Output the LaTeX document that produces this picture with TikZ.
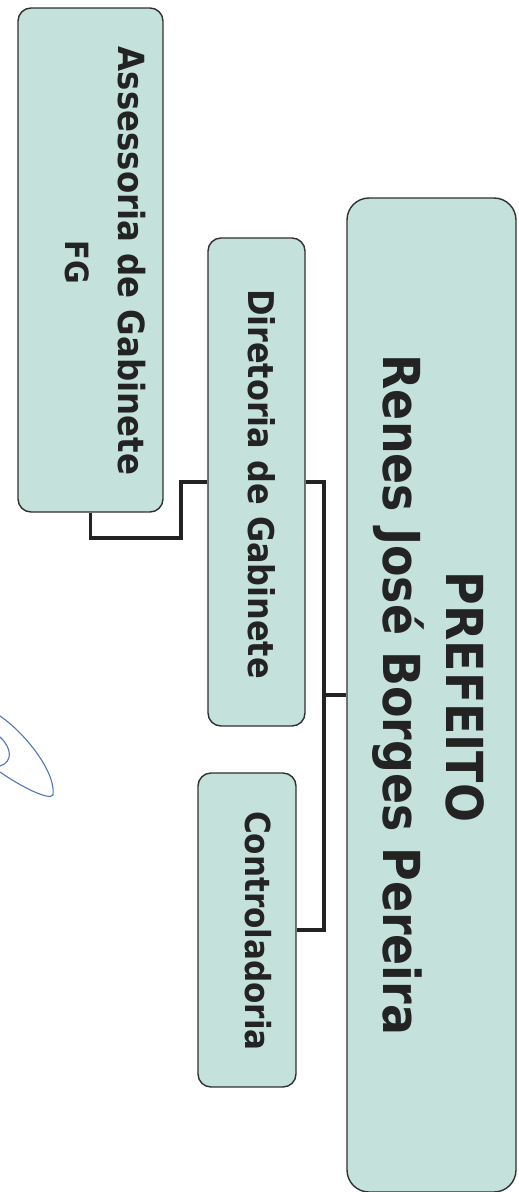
\documentclass[tikz,border=0pt]{standalone}
\usepackage{fontspec}
\setmainfont{DejaVu Sans Condensed}
\usetikzlibrary{calc}
\definecolor{boxfill}{HTML}{C4E2DB}
\definecolor{boxline}{HTML}{303030}
\definecolor{ink}{HTML}{232323}
\definecolor{sigblue}{HTML}{5177B8}
\tikzset{
  box/.style={draw=boxline, line width=1.4pt, fill=boxfill, rounded corners=13pt, rectangle, inner sep=0pt},
  bigbox/.style={box, rounded corners=22pt},
  lbl/.style={rotate=-90, anchor=base, inner sep=0pt, text=ink, font=\bfseries},
  conn/.style={draw=ink, line width=3.8pt},
  sig/.style={draw=sigblue, line width=1.1pt, line cap=round}
}
\begin{document}
\begin{tikzpicture}[x=1pt,y=-1pt]
\useasboundingbox (0,0) rectangle (519,1192);
% boxes (rotated: minimum width runs along the page height)
\node[box, rotate=-90, minimum width=504pt, minimum height=145pt] (A) at (90.5,260) {};
\node[box, rotate=-90, minimum width=488pt, minimum height=97pt] (D) at (256.5,482) {};
\node[box, rotate=-90, minimum width=314pt, minimum height=98pt] (C) at (247,930) {};
\node[bigbox, rotate=-90, minimum width=994pt, minimum height=169pt] (P) at (431.5,695) {};
% texts
\node[lbl, font=\bfseries\fontsize{36}{40}\selectfont] (A1) at (118,261) {Assessoria de Gabinete};
\node[lbl, font=\bfseries\fontsize{32}{36}\selectfont] (A2) at (65,262) {FG};
\node[lbl, font=\bfseries\fontsize{35.5}{42}\selectfont] (D1) at (248,484) {Diretoria de Gabinete};
\node[lbl, font=\bfseries\fontsize{34.5}{40}\selectfont] (C1) at (245,931) {Controladoria};
\node[lbl, font=\bfseries\fontsize{51}{56}\selectfont] (P1) at (446,697) {PREFEITO};
\node[lbl, font=\bfseries\fontsize{51}{58}\selectfont] (P2) at (383,695) {Renes José Borges Pereira};
% connectors
\coordinate (t1) at ($(D.north)+(18,0)$);
\coordinate (a1) at ($(A.east)+(0,25)$);
\coordinate (a2) at ($(D.south)+(-26,0)$);
\draw[conn] (A.east) -- (a1) -| (a2) -- (D.south);
\draw[conn] (D.north) -- (t1) |- (C.north);
\draw[conn] (P.south) -- (t1 |- P.south);
% signature stroke
\draw[sig] (0,716) .. controls (25,733) and (56,772) .. (53,795) .. controls (49,801) and (20,786) .. (0,772);
\draw[sig] (0,737) .. controls (12,748) and (13,762) .. (0,766);
\end{tikzpicture}
\end{document}
